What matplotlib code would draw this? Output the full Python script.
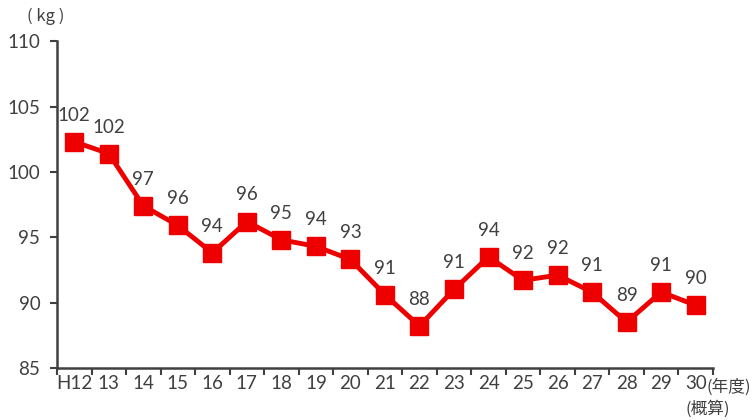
import matplotlib
matplotlib.use("Agg")
import matplotlib.pyplot as plt
import numpy as np

plt.rcParams['font.family'] = ['Lato', 'Noto Sans CJK JP', 'DejaVu Sans']

years = ["H12", "13", "14", "15", "16", "17", "18", "19", "20", "21",
         "22", "23", "24", "25", "26", "27", "28", "29", "30"]
values = [102.3, 101.4, 97.4, 95.9, 93.8, 96.2, 94.8, 94.3, 93.3, 90.6,
          88.2, 91.0, 93.5, 91.7, 92.1, 90.8, 88.5, 90.8, 89.8]
labels = ["102", "102", "97", "96", "94", "96", "95", "94", "93", "91",
          "88", "91", "94", "92", "92", "91", "89", "91", "90"]
yticks = [85, 90, 95, 100, 105, 110]

txt = "#404040"
fig = plt.figure(figsize=(7.56, 4.2), dpi=100)
ax = fig.add_axes([0.0754, 0.124, 0.8676, 0.778])
x = np.arange(len(years))
ax.plot(x, values, color="#ee0000", lw=3.5, marker="s", markersize=12.5,
        markerfacecolor="#ee0000", markeredgecolor="#ee0000", zorder=3)
for xi, v, lab in zip(x, values, labels):
    ax.annotate(lab, (xi, v), xytext=(0, 13), textcoords="offset points",
                ha="center", va="bottom", fontsize=13.5, color=txt)

ax.set_xlim(-0.5, len(years) - 0.5)
ax.set_ylim(85, 110)
ax.set_yticks(yticks)
ax.set_yticklabels([str(t) for t in yticks], fontsize=13.5, color=txt)
ax.set_xticks(np.arange(len(years) + 1) - 0.5)
ax.set_xticklabels([])
ax.set_xticks(x, minor=True)
ax.set_xticklabels(years, minor=True, fontsize=13.5, color=txt)
ax.tick_params(axis="x", which="minor", length=0, pad=5)
ax.tick_params(axis="x", which="major", length=5, width=1.5, color="#404040", direction="out")
ax.tick_params(axis="y", length=5, width=1.5, color="#404040", direction="out", pad=7)
for s in ["top", "right"]:
    ax.spines[s].set_visible(False)
for s in ["left", "bottom"]:
    ax.spines[s].set_color("#404040")
    ax.spines[s].set_linewidth(1.8)

cjk = ['Noto Sans CJK JP', 'DejaVu Sans']
fig.text(0.061, 0.962, "( kg )", fontsize=12, color=txt, ha="center", va="center", family=cjk)
fig.text(0.934, 0.078, "(年度)", fontsize=12, color=txt, ha="left", va="center", family=cjk)
fig.text(0.936, 0.027, "(概算)", fontsize=12, color=txt, ha="center", va="center", family=cjk)

fig.savefig("out.png", dpi=100)
